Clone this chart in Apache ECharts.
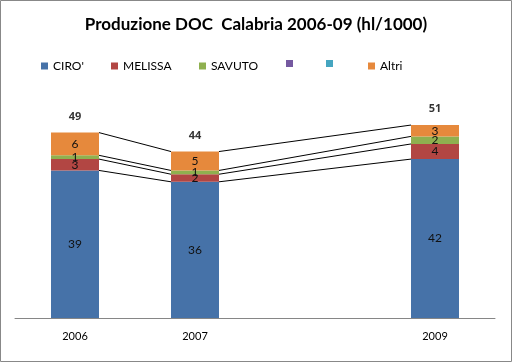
<!DOCTYPE html>
<html><head><meta charset="utf-8">
<script src="https://cdn.jsdelivr.net/npm/echarts@6/dist/echarts.min.js"></script>
<style>html,body{margin:0;padding:0;background:#fff}#c{width:512px;height:362px}</style>
</head><body><div id="c"></div>
<script>
const categories = ['2006', '2007', '', '2009'];
const ciro    = [39, 36, null, 42];
const melissa = [3, 2, null, 4];
const savuto  = [1, 1, null, 2];
const serie4  = [0, 0, null, 0];
const serie5  = [0, 0, null, 0];
const altri   = [6, 5, null, 3];
const totals  = [49, 44, null, 51];
const seriesNames = ["CIRO'", 'MELISSA', 'SAVUTO', 'Serie4', 'Serie5', 'Altri'];
const colors = ['#4672A8', '#B24643', '#8FB04F', '#7559A0', '#45A5C0', '#E6893C'];
const values = [ciro, melissa, savuto, serie4, serie5, altri];

const FONT = 'Lato, "Open Sans", sans-serif';
const chart = echarts.init(document.getElementById('c'));

// connector (series) lines between consecutive data years
const present = categories.map((c, i) => i).filter(i => ciro[i] != null);
const lineData = [];
const seen = new Set();
for (let k = 0; k < values.length; k++) {
  for (let p = 0; p < present.length - 1; p++) {
    const a = present[p], b = present[p + 1];
    let ca = 0, cb = 0;
    for (let j = 0; j <= k; j++) { ca += values[j][a]; cb += values[j][b]; }
    const key = [a, b, ca, cb].join(',');
    if (seen.has(key)) continue;
    seen.add(key);
    lineData.push([a, b, ca, cb]);
  }
}

const barSeries = values.map((v, i) => ({
  name: seriesNames[i],
  type: 'bar',
  stack: 'total',
  barWidth: '40%',
  data: v,
  itemStyle: { color: colors[i] },
  label: {
    show: true, position: 'inside', color: '#111', fontFamily: FONT, fontSize: 12,
    formatter: p => (p.value ? String(p.value) : '')
  }
}));

const legends = seriesNames.map((n, i) => ({
  data: [n],
  left: [41, 111, 199, 286, 326, 368][i],
  top: 60,
  padding: 0,
  itemWidth: 7, itemHeight: 7,
  itemGap: 0,
  icon: 'rect',
  textStyle: { fontFamily: FONT, fontSize: 12, color: '#000' },
  formatter: name => (name.startsWith('Serie') ? '' : name),
  selectedMode: false
}));

chart.setOption({
  animation: false,
  title: {
    text: 'Produzione DOC  Calabria 2006-09 (hl/1000)',
    left: 'center', top: 11,
    textStyle: { fontFamily: FONT, fontSize: 17, fontWeight: 'bold', color: '#000' }
  },
  legend: legends,
  grid: { left: 15, right: 17, top: 91, bottom: 44 },
  xAxis: {
    type: 'category', data: categories,
    axisLine: { lineStyle: { color: '#868686' } },
    axisTick: { show: false },
    axisLabel: { fontFamily: FONT, fontSize: 11, color: '#000', margin: 13 }
  },
  yAxis: { type: 'value', min: 0, max: 60, show: false, splitLine: { show: false } },
  series: [
    ...barSeries,
    {
      type: 'custom',
      data: lineData,
      encode: { x: [0, 1], y: [2, 3] },
      renderItem: (params, api) => {
        const p1 = api.coord([api.value(0), api.value(2)]);
        const p2 = api.coord([api.value(1), api.value(3)]);
        const half = api.size([1, 0])[0] * 0.2;
        return {
          type: 'line',
          shape: { x1: p1[0] + half, y1: p1[1], x2: p2[0] - half, y2: p2[1] },
          style: { stroke: '#000', lineWidth: 1 }
        };
      },
      z: 5
    },
    {
      type: 'scatter',
      data: totals,
      symbolSize: 1,
      itemStyle: { color: 'transparent' },
      label: {
        show: true, position: 'top', distance: 10,
        fontFamily: '"Open Sans", Lato, sans-serif', fontSize: 11, fontWeight: 'bold', color: '#000',
        formatter: p => (p.value != null ? String(p.value) : '')
      }
    }
  ],
  graphic: [{
    type: 'rect', shape: { x: 0.5, y: 0.5, width: 511, height: 361 },
    style: { fill: 'none', stroke: '#888', lineWidth: 1 }, silent: true
  }]
});
</script></body></html>
